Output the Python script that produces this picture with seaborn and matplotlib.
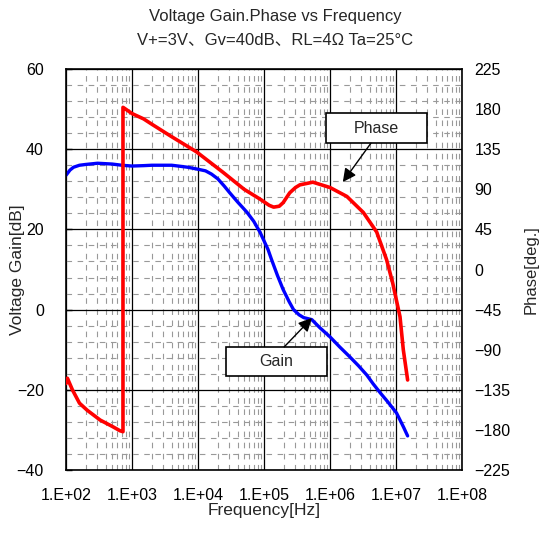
import numpy as np
import pandas as pd
import matplotlib
matplotlib.use("Agg")
import matplotlib.pyplot as plt
import seaborn as sns
from matplotlib.ticker import FixedLocator, FuncFormatter, LogLocator, NullFormatter
from matplotlib.patches import Rectangle

# gain curve (dB)
gain_freq = [100, 115, 130, 160, 200, 300, 500, 700, 1000, 1500, 2000, 3000, 4000,
             7000, 10000, 13000, 16000, 20000, 25000, 30000, 40000, 55000, 70000, 87000,
             115000, 130000, 160000, 195000, 240000, 280000, 340000, 400000,
             530000, 700000, 1000000, 1400000, 2000000, 2700000, 3600000,
             4500000, 5800000, 7500000, 10200000, 13000000, 15000000]
gain_db = [33.5, 34.8, 35.5, 36.0, 36.2, 36.5, 36.3, 36.0, 35.8, 35.9, 36.0, 36.0, 36.0,
           35.5, 35.0, 34.6, 33.8, 32.6, 30.8, 29.2, 26.8, 24.3, 22.0, 19.3,
           15.0, 12.5, 8.5, 5.0, 2.0, 0.0, -1.3, -2.0,
           -2.5, -4.5, -6.8, -9.3, -11.8, -14.0, -16.3,
           -18.5, -20.8, -23.0, -25.8, -29.3, -31.5]

# phase curve (deg)
phase_freq = [100, 105, 125, 160, 210, 330, 500, 660, 730, 730, 800, 1000, 1500,
              2000, 3800, 9500, 24000, 50000, 87000, 120000, 140000, 170000,
              195000, 245000, 300000, 350000, 550000, 1000000, 1800000, 3200000,
              5100000, 6300000, 7200000, 8900000, 11500000, 12900000, 15000000]
phase_deg = [-128, -122, -135, -150, -158, -169, -176, -181, -182, 182, 180, 175, 169,
             163, 150, 132, 109, 90, 79, 72, 70, 71,
             75, 86, 92, 95, 98, 92, 82, 64,
             42, 23, 11, -15, -53, -90, -124]

freq_ticks = [1e2, 1e3, 1e4, 1e5, 1e6, 1e7, 1e8]
gain_ticks = [-40, -20, 0, 20, 40, 60]
phase_ticks = [-225, -180, -135, -90, -45, 0, 45, 90, 135, 180, 225]

gain_df = pd.DataFrame({"freq": gain_freq, "gain": gain_db})
phase_df = pd.DataFrame({"freq": phase_freq, "phase": phase_deg})

sns.set_theme(style="white")
plt.rcParams["font.family"] = ["Liberation Sans", "Noto Sans CJK JP", "DejaVu Sans"]

fig = plt.figure(figsize=(5.4, 5.33), dpi=100)
ax = fig.add_axes([66 / 540, 1 - 470 / 533, 396 / 540, 401 / 533])
ax.set_xscale("log")
ax.set_xlim(1e2, 1e8)
ax.set_ylim(-40, 60)

# grids
ax.xaxis.set_major_locator(FixedLocator(freq_ticks))
ax.xaxis.set_minor_locator(LogLocator(base=10, subs=np.arange(2, 10), numticks=20))
ax.xaxis.set_minor_formatter(NullFormatter())
ax.xaxis.set_major_formatter(FuncFormatter(lambda v, p: f"1.E+{int(round(np.log10(v))):02d}"))
ax.yaxis.set_major_locator(FixedLocator(gain_ticks))
ax.yaxis.set_minor_locator(FixedLocator(np.arange(-40, 61, 4)))
ax.grid(which="major", color="black", lw=0.9)
ax.grid(which="minor", color="#999999", lw=0.8, linestyle=(0, (5, 5)))
ax.set_axisbelow(True)

ax.tick_params(axis="x", which="both", length=0, pad=13, labelsize=11.5, colors="black")
ax.tick_params(axis="y", which="major", direction="in", length=4, width=1, pad=16,
               labelsize=11.5, colors="black")
ax.tick_params(axis="y", which="minor", length=0)
for s in ax.spines.values():
    s.set_color("black")
    s.set_linewidth(1.2)

sns.lineplot(data=gain_df, x="freq", y="gain", ax=ax, color="#0000ff", lw=2.4,
             estimator=None, sort=False)
ax.set_xlabel("Frequency[Hz]", fontsize=12.5, labelpad=0)
ax.set_ylabel("Voltage Gain[dB]", fontsize=12.5, va="center")
ax.yaxis.set_label_coords((17.5 - 66) / 396, 0.5)

ax2 = ax.twinx()
ax2.set_ylim(-225, 225)
sns.lineplot(data=phase_df, x="freq", y="phase", ax=ax2, color="#ff0000", lw=2.6,
             estimator=None, sort=False)
ax2.set_xlim(1e2, 1e8)
ax2.yaxis.set_major_locator(FixedLocator(phase_ticks))
ax2.tick_params(axis="y", length=0, pad=9, labelsize=11.5, colors="black")
ax2.set_ylabel("Phase[deg.]", fontsize=12, va="center")
ax2.yaxis.set_label_coords((531 - 66) / 396, 0.5)
ax2.grid(False)
for s in ax2.spines.values():
    s.set_visible(False)

# annotation boxes
arrow = dict(arrowstyle="-|>", color="black", lw=1.0, mutation_scale=20, shrinkA=0, shrinkB=0)
for (x0, y0, x1, y1), label, tail, tip in [
        ((0.657, 0.815, 0.912, 0.890), "Phase", (0.770, 0.815), (0.699, 0.718)),
        ((0.404, 0.234, 0.659, 0.307), "Gain", (0.551, 0.307), (0.621, 0.379))]:
    ax2.add_patch(Rectangle((x0, y0), x1 - x0, y1 - y0, transform=ax2.transAxes,
                            facecolor="white", edgecolor="black", lw=1.2, zorder=5))
    ax2.text((x0 + x1) / 2, (y0 + y1) / 2, label, transform=ax2.transAxes,
             ha="center", va="center", fontsize=11.5, zorder=6)
    ax2.annotate("", xy=tip, xytext=tail, xycoords="axes fraction",
                 textcoords="axes fraction", arrowprops=arrow, zorder=6)

fig.text(275 / 540, 1 - 16 / 533, "Voltage Gain.Phase vs Frequency",
         ha="center", va="center", fontsize=12)
fig.text(275 / 540, 1 - 40 / 533, "V+=3V、Gv=40dB、RL=4Ω Ta=25°C",
         ha="center", va="center", fontsize=12)

fig.savefig("out.png", dpi=100)
